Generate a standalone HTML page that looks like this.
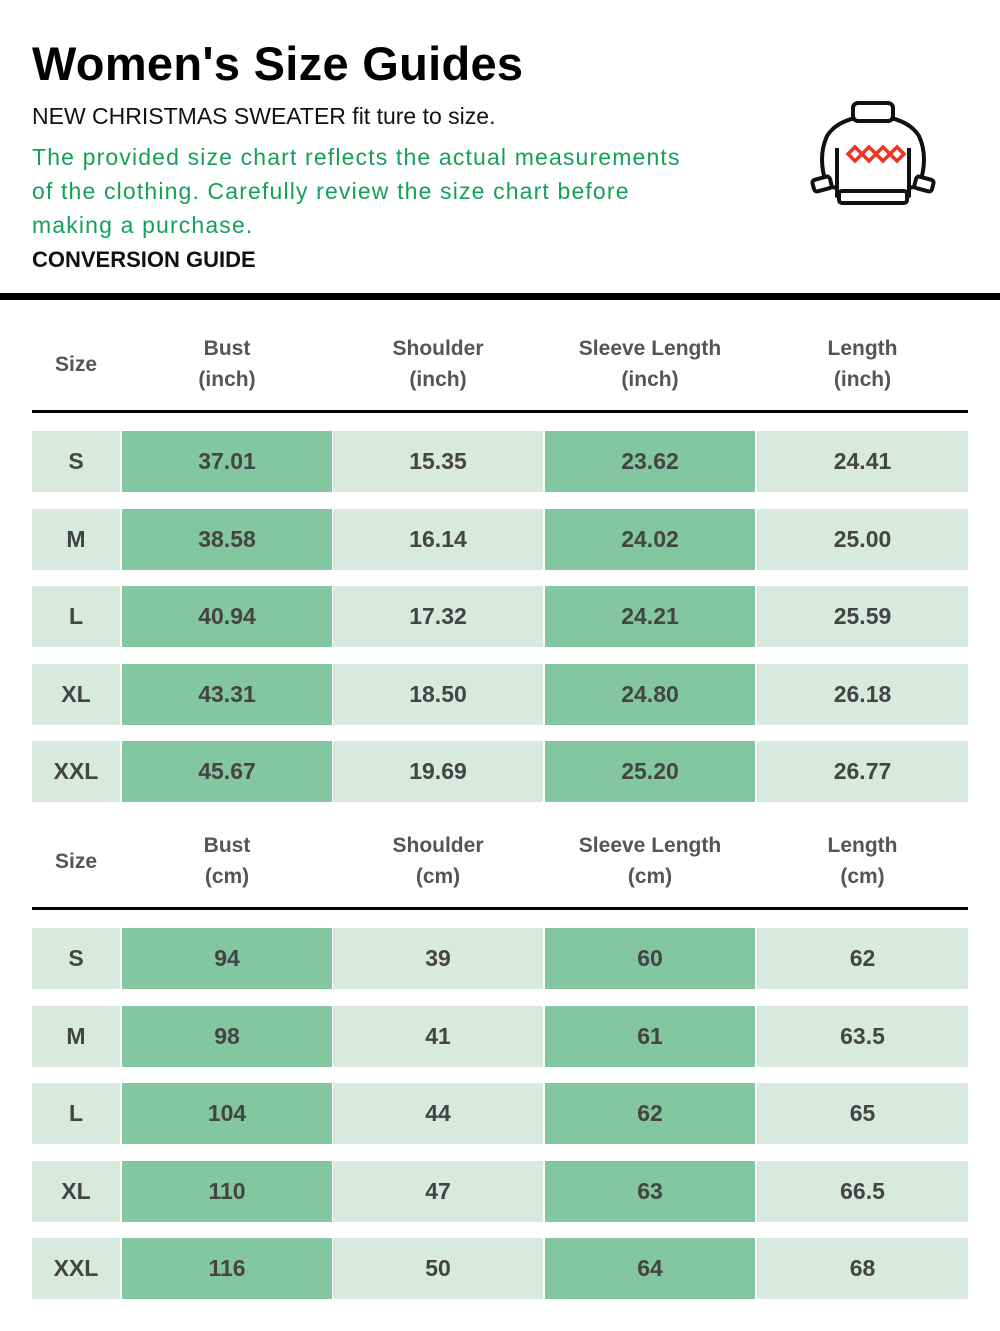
<!DOCTYPE html><html><head><style>
body{margin:0;width:1000px;height:1331px;background:#fff;position:relative;font-family:"Liberation Sans",sans-serif;overflow:hidden}
.a{position:absolute}
.c{position:absolute;display:flex;align-items:center;justify-content:center;font-weight:bold;font-size:23px;color:#444;height:61px}
.l{background:#d8eadf}.d{background:#82c79f}
.h{position:absolute;text-align:center;font-weight:bold;font-size:21px;color:#555;line-height:31px}
</style></head><body>
<div class="a" style="left:32px;top:36px;font-size:47px;font-weight:bold;color:#000;letter-spacing:0.3px">Women's Size Guides</div>
<div class="a" style="left:32px;top:103px;font-size:23px;color:#111">NEW CHRISTMAS SWEATER fit ture to size.</div>
<div class="a" style="left:32px;top:140px;font-size:23px;color:#14a05a;line-height:34px;width:700px;letter-spacing:1.15px">The provided size chart reflects the actual measurements<br>of the clothing. Carefully review the size chart before<br>making a purchase.</div>
<div class="a" style="left:32px;top:247px;font-size:22px;font-weight:bold;color:#111">CONVERSION GUIDE</div>
<svg class="a" style="left:805px;top:98px" width="135" height="112" viewBox="0 0 135 112">
<g stroke="#111" stroke-width="4" fill="#fff" stroke-linejoin="round">
<path d="M22 88 Q12 60 22 38 Q30 25 50 20 L86 20 Q106 25 114 38 Q124 60 114 88 L104 90 L104 98 L32 98 L32 90Z"/>
<path d="M32 50 L32 90 M104 50 L104 90" fill="none"/>
<rect x="8" y="80" width="18" height="12" rx="3" transform="rotate(-15 17 86)"/>
<rect x="110" y="80" width="18" height="12" rx="3" transform="rotate(15 119 86)"/>
<rect x="48" y="5" width="40" height="18" rx="5"/>
<rect x="34" y="93" width="68" height="12" rx="3"/>
</g>
<g fill="none" stroke="#e32" stroke-width="3.5"><path d="M43 56l7-7 7 7-7 7zM57 56l7-7 7 7-7 7zM71 56l7-7 7 7-7 7zM85 56l7-7 7 7-7 7z"/></g>
</svg>
<div class="a" style="left:0;top:293px;width:1000px;height:7px;background:#000"></div>
<div id="t"></div>
<script>
var cols=[[32,88],[122,210],[333,210],[545,210],[757,211]];
var inch=[["S","37.01","15.35","23.62","24.41"],["M","38.58","16.14","24.02","25.00"],["L","40.94","17.32","24.21","25.59"],["XL","43.31","18.50","24.80","26.18"],["XXL","45.67","19.69","25.20","26.77"]];
var cm=[["S","94","39","60","62"],["M","98","41","61","63.5"],["L","104","44","62","65"],["XL","110","47","63","66.5"],["XXL","116","50","64","68"]];
var h="";
function tab(hy,ly,ry,data,u){
 var hd=["Size","Bust<br>("+u+")","Shoulder<br>("+u+")","Sleeve Length<br>("+u+")","Length<br>("+u+")"];
 for(var i=0;i<5;i++){var top=i==0?hy+16:hy;h+='<div class="h" style="left:'+cols[i][0]+'px;width:'+cols[i][1]+'px;top:'+top+'px">'+hd[i]+'</div>';}
 h+='<div class="a" style="left:32px;width:936px;top:'+ly+'px;height:3px;background:#000"></div>';
 for(var r=0;r<5;r++)for(var i=0;i<5;i++){h+='<div class="c '+(i%2?'d':'l')+'" style="left:'+cols[i][0]+'px;width:'+cols[i][1]+'px;top:'+(ry+r*77.5)+'px">'+data[r][i]+'</div>';}
}
tab(333,410,431,inch,"inch");
tab(830,907,928,cm,"cm");
document.getElementById("t").innerHTML=h;
</script>
</body></html>
